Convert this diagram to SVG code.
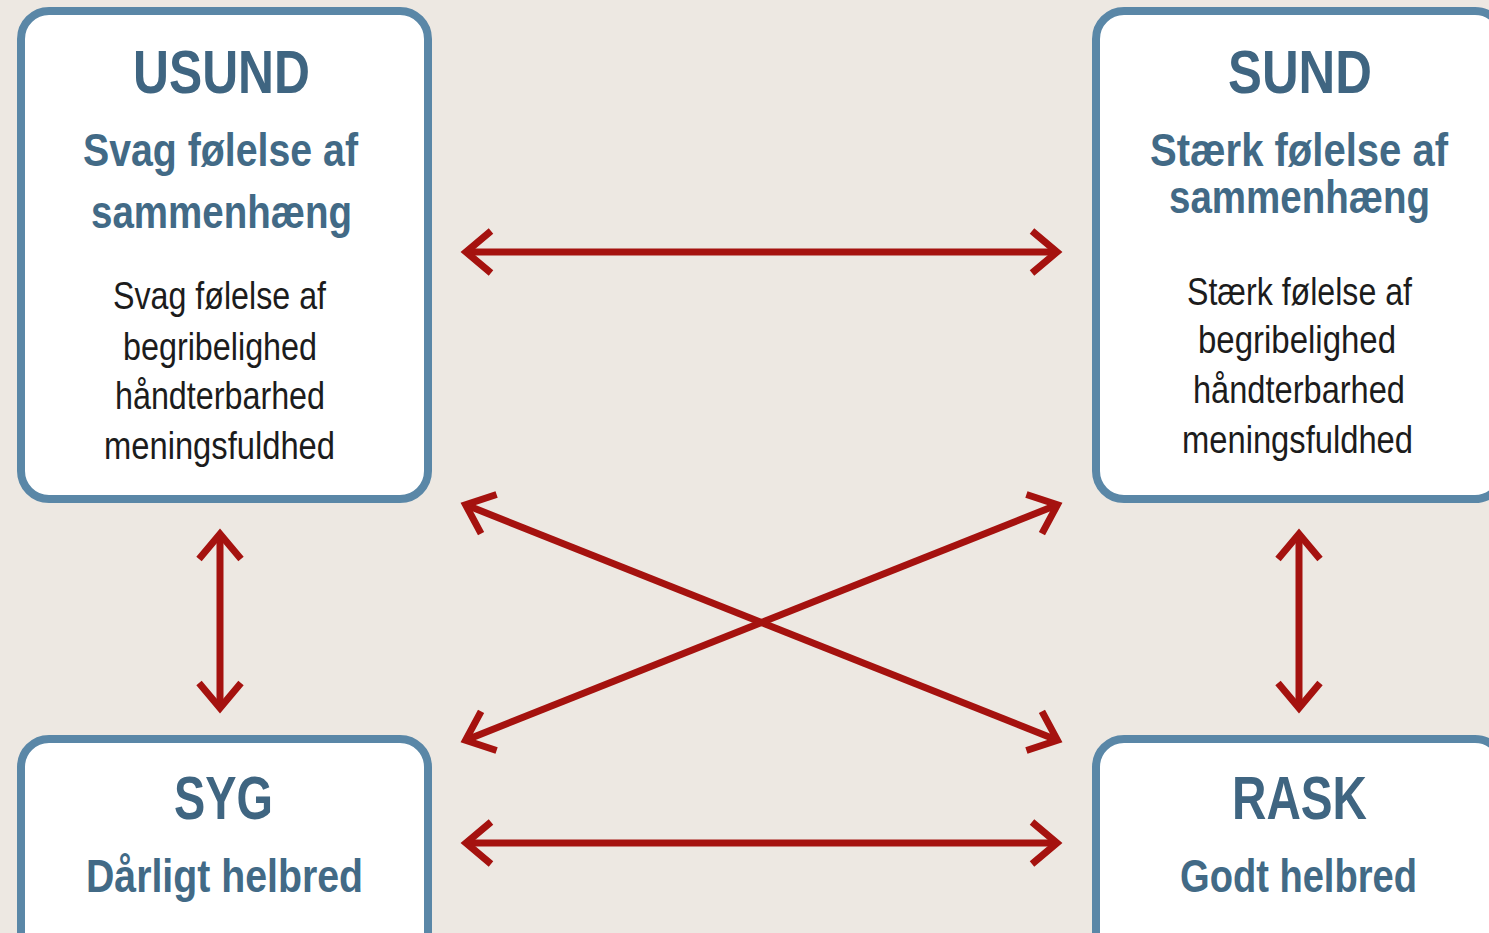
<svg xmlns="http://www.w3.org/2000/svg" width="1489" height="933" viewBox="0 0 1489 933">
<style>
.box{fill:#ffffff;stroke:#5a87a7;stroke-width:8}
.t{font-family:"Liberation Sans",Arial,sans-serif;font-weight:bold;font-size:62px;fill:#3f6581}
.s{font-family:"Liberation Sans",Arial,sans-serif;font-weight:bold;font-size:46px;fill:#426a86}
.b{font-family:"Liberation Sans",Arial,sans-serif;font-size:38px;fill:#1c1c1c}
.arr{stroke:#a5120f;stroke-width:7;fill:none;marker-start:url(#ah);marker-end:url(#ah)}
</style>
<defs>
<marker id="ah" markerUnits="userSpaceOnUse" orient="auto-start-reverse" viewBox="-40 -30 60 60" refX="0" refY="0" markerWidth="60" markerHeight="60" overflow="visible">
<path d="M-25,-21 L0,0 L-25,21" fill="none" stroke="#a5120f" stroke-width="7" stroke-linejoin="miter" stroke-miterlimit="10"/>
</marker>
</defs>
<rect x="0" y="0" width="1489" height="933" fill="#ede8e2"/>
<g id="usund">
<rect class="box" x="21" y="11" width="407" height="488" rx="28"/>
<text class="t" x="133" y="93" textLength="177" lengthAdjust="spacingAndGlyphs">USUND</text>
<text class="s" x="83" y="166" textLength="275" lengthAdjust="spacingAndGlyphs">Svag følelse af</text>
<text class="s" x="91" y="228" textLength="261" lengthAdjust="spacingAndGlyphs">sammenhæng</text>
<text class="b" x="113" y="309" textLength="213" lengthAdjust="spacingAndGlyphs">Svag følelse af</text>
<text class="b" x="123" y="360" textLength="194" lengthAdjust="spacingAndGlyphs">begribelighed</text>
<text class="b" x="115" y="409" textLength="210" lengthAdjust="spacingAndGlyphs">håndterbarhed</text>
<text class="b" x="104" y="459" textLength="231" lengthAdjust="spacingAndGlyphs">meningsfuldhed</text>
</g>
<g id="sund">
<rect class="box" x="1096" y="11" width="407" height="488" rx="28"/>
<text class="t" x="1228" y="93" textLength="144" lengthAdjust="spacingAndGlyphs">SUND</text>
<text class="s" transform="translate(1299,166) scale(0.87,1)" x="0" y="0" text-anchor="middle">Stærk følelse af</text>
<text class="s" x="1169" y="213" textLength="261" lengthAdjust="spacingAndGlyphs">sammenhæng</text>
<text class="b" x="1187" y="305" textLength="225" lengthAdjust="spacingAndGlyphs">Stærk følelse af</text>
<text class="b" x="1198" y="353" textLength="198" lengthAdjust="spacingAndGlyphs">begribelighed</text>
<text class="b" x="1193" y="403" textLength="212" lengthAdjust="spacingAndGlyphs">håndterbarhed</text>
<text class="b" x="1182" y="453" textLength="231" lengthAdjust="spacingAndGlyphs">meningsfuldhed</text>
</g>
<g id="syg">
<rect class="box" x="21" y="739" width="407" height="240" rx="28"/>
<text class="t" x="174" y="819" textLength="99" lengthAdjust="spacingAndGlyphs">SYG</text>
<text class="s" x="86" y="892" textLength="277" lengthAdjust="spacingAndGlyphs">Dårligt helbred</text>
</g>
<g id="rask">
<rect class="box" x="1096" y="739" width="407" height="240" rx="28"/>
<text class="t" x="1232" y="819" textLength="135" lengthAdjust="spacingAndGlyphs">RASK</text>
<text class="s" x="1180" y="892" textLength="237" lengthAdjust="spacingAndGlyphs">Godt helbred</text>
</g>
<g id="connectors">
<line class="arr" x1="466" y1="252" x2="1057" y2="252"/>
<line class="arr" x1="466" y1="843" x2="1057" y2="843"/>
<line class="arr" x1="220" y1="534" x2="220" y2="708"/>
<line class="arr" x1="1299" y1="534" x2="1299" y2="708"/>
<line class="arr" x1="465.6" y1="504.8" x2="1057.4" y2="740.2"/>
<line class="arr" x1="465.6" y1="740.2" x2="1057.4" y2="504.8"/>
</g>
</svg>
